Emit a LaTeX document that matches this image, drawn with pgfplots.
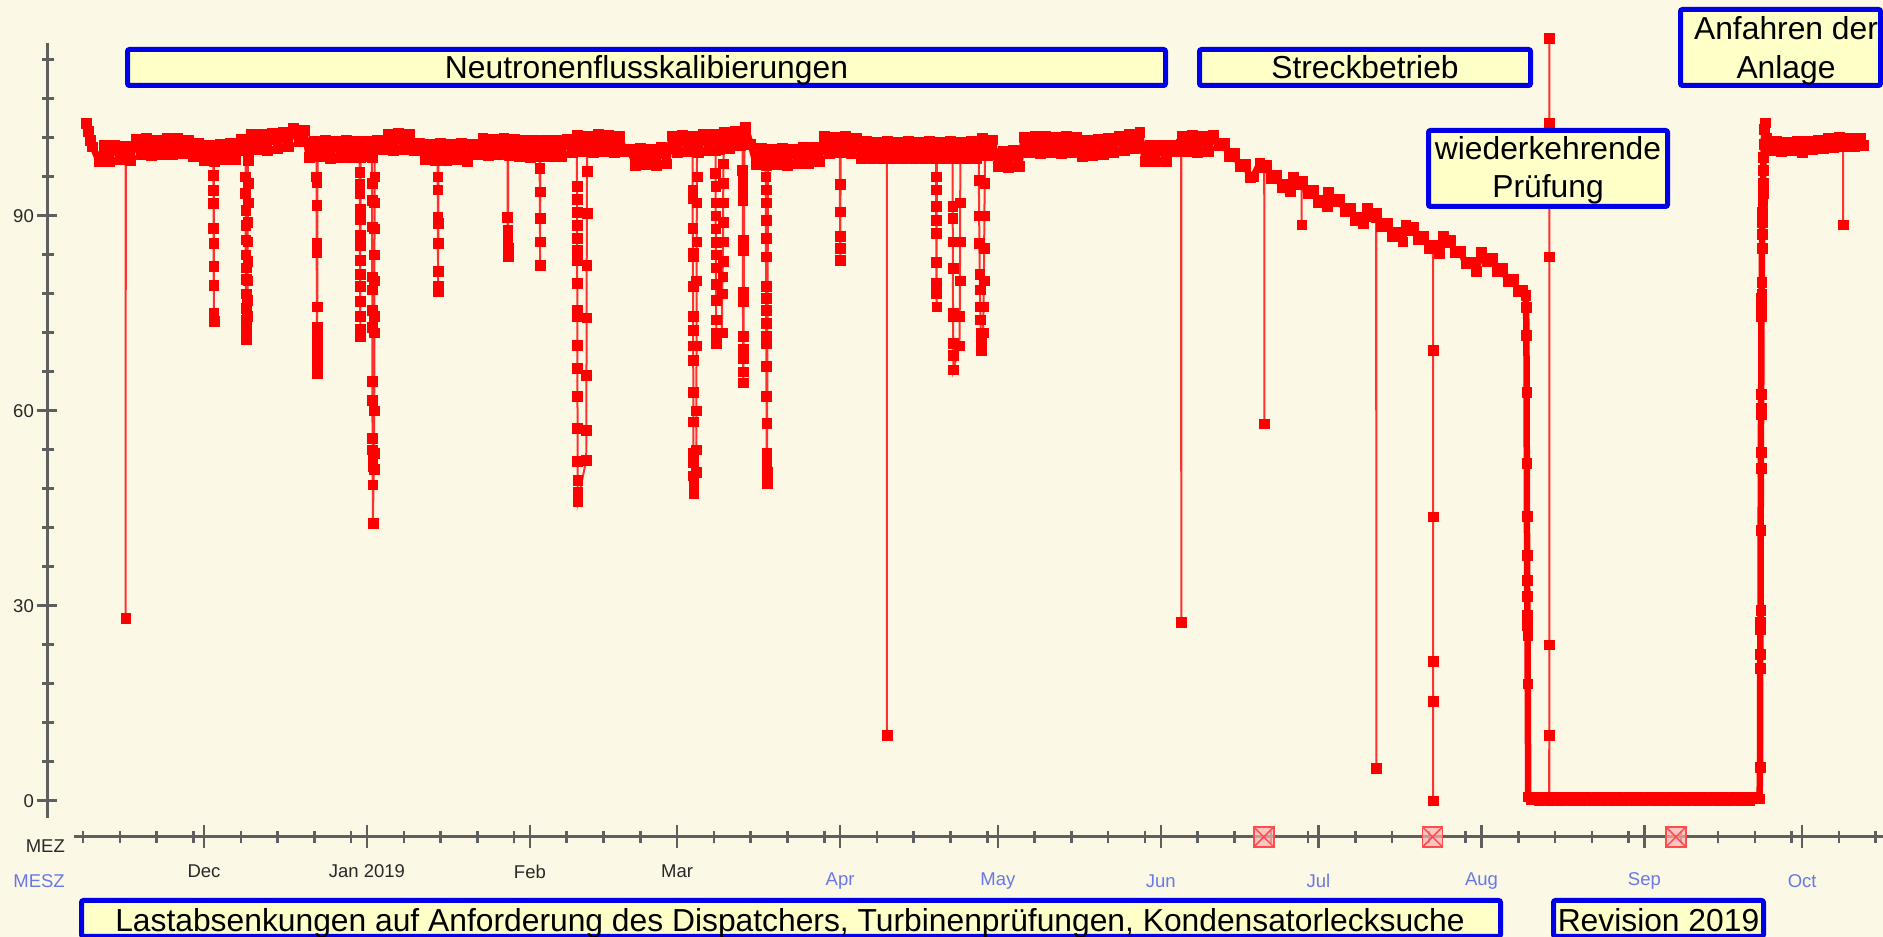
\documentclass[border=0pt]{standalone}
\usepackage{pgfplots}
\pgfplotsset{compat=1.18}
\usepackage{fontspec}
\setmainfont{Liberation Sans}
\definecolor{bg}{RGB}{252,248,230}
\definecolor{boxfill}{RGB}{255,255,200}
\definecolor{boxblue}{RGB}{0,0,230}
\definecolor{axgray}{RGB}{95,95,95}
\definecolor{mesz}{RGB}{105,120,230}
\definecolor{mez}{RGB}{40,40,40}
\newcommand\tickfont{\fontsize{18.5}{22}\selectfont}
\newcommand\boxfont{\fontsize{31.8}{38.2}\selectfont}
\pgfdeclareplotmark{xbox}{%
  \pgfpathrectangle{\pgfpoint{-\pgfplotmarksize}{-\pgfplotmarksize}}{\pgfpoint{2\pgfplotmarksize}{2\pgfplotmarksize}}%
  \pgfusepathqfillstroke
  \pgfpathmoveto{\pgfpoint{-\pgfplotmarksize}{-\pgfplotmarksize}}%
  \pgfpathlineto{\pgfpoint{\pgfplotmarksize}{\pgfplotmarksize}}%
  \pgfpathmoveto{\pgfpoint{-\pgfplotmarksize}{\pgfplotmarksize}}%
  \pgfpathlineto{\pgfpoint{\pgfplotmarksize}{-\pgfplotmarksize}}%
  \pgfusepathqstroke}
\begin{document}
\begin{tikzpicture}[x=1pt,y=1pt]
\useasboundingbox (0,0) rectangle (1883,937);
\clip (0,0) rectangle (1883,937);
\fill[bg] (0,0) rectangle (1883,937);
% y axis
\draw[axgray,line width=3pt] (47,119) -- (47,894);
\foreach \v in {0,6,...,114} \draw[axgray,line width=3pt] (42,{136.3+6.5*\v}) -- (54,{136.3+6.5*\v});
\foreach \v in {0,30,60,90} {
  \draw[axgray,line width=3pt] (37,{136.3+6.5*\v}) -- (57,{136.3+6.5*\v});
  \node[anchor=east,inner sep=0pt,font=\tickfont,text=mez] at (34,{136.3+6.5*\v}) {\v};
}
% time axis
\draw[axgray,line width=3pt] (74,100) -- (1883,100);
\foreach \d in {0,31,62,90,121,151,182,212,243,274,304}
  \draw[axgray,line width=2.5pt] ({204+5.257*\d},89) -- ({204+5.257*\d},112);
\foreach \d in {-23,-16,-9,-2,7,14,21,28,38,45,52,59,69,76,83,97,104,111,118,128,135,142,149,158,165,172,179,189,196,203,210,219,226,233,240,250,257,264,271,281,288,295,302,311,318}
  \draw[axgray,line width=2.5pt] ({204+5.257*\d},94) -- ({204+5.257*\d},106);
\foreach \d/\l in {0/Dec,31/Jan 2019,62/Feb,90/Mar}
  \node[font=\tickfont,text=mez,inner sep=0pt] at ({204+5.257*\d},65.5) {\l};
\foreach \d/\l in {121/Apr,151/May,182/Jun,212/Jul,243/Aug,274/Sep,304/Oct}
  \node[font=\tickfont,text=mesz,inner sep=0pt] at ({204+5.257*\d},56) {\l};
\node[anchor=east,font=\tickfont,text=mez,inner sep=0pt] at (65,90.5) {MEZ};
\node[anchor=east,font=\tickfont,text=mesz,inner sep=0pt] at (65,56) {MESZ};
\begin{axis}[at={(0,0)},anchor=south west,scale only axis,width=1883pt,height=937pt,
  xmin=-38.806,xmax=319.384,ymin=-20.969,ymax=123.185,hide axis,clip=false,
  dat/.style={red,line width=2pt,draw opacity=0.8,mark=square*,mark size=4.9pt,
    mark options={fill=red,draw=red,draw opacity=1,line width=0.4pt,solid}}]
\addplot[dat,line width=6.5pt,draw opacity=1,line join=round] coordinates {
(-22.4,104.2) (-22.0,103.0) (-21.6,101.6) (-21.2,100.6)
(-20,98.4) (-19,100.8) (-18,98.3) (-17,100.9) (-16,98.6) (-15,100.7) (-14,98.5)
(-13,101.8) (-12,99.4) (-11,101.9) (-10,99.3) (-9,101.7) (-8,99.5) (-7,102.0) (-6,99.4) (-5,101.9) (-4,99.6) (-3,101.6) (-2,99.2) (-1,101.2)
(0,98.5) (1,100.9) (2,98.4) (3,101.0) (4,98.6) (5,101.2) (6,98.7) (7,101.8)
(8,100.1) (9,102.6) (10,100.2) (11,102.5) (12,100.0) (13,102.7) (14,100.3) (15,102.8) (16,100.6) (17,103.5) (18,101.4) (19,103.2)
(20,99.0) (21,101.5) (22,99.1) (23,101.6) (24,98.9) (25,101.4) (26,99.0) (27,101.7) (28,99.0) (29,101.5)
(30,99.1) (31,101.5) (32,99.0) (33,101.6) (34,100.2) (35,102.6) (36,100.1) (37,102.7) (38,100.2) (39,102.5) (40,100.0) (41,101.2) (42,98.6) (43,101.0) (44,98.5) (45,101.1) (46,98.5) (47,101.0) (48,98.6) (49,101.1) (50,98.4) (51,101.0) (52,99.4) (53,101.9) (54,99.3) (55,101.8) (56,99.4) (57,101.9) (58,99.3) (59,101.8)
(60,99.1) (61,101.7) (62,99.0) (63,101.6) (64,99.2) (65,101.7) (66,99.1) (67,101.6) (68,99.2) (69,101.8)
(70,99.8) (71,102.4) (72,99.9) (73,102.3) (74,99.8) (75,102.5) (76,99.9) (77,102.4) (78,99.7) (79,102.3) (80,99.9)
(81,100.3) (82,97.8) (83,100.4) (84,97.9) (85,100.3) (86,97.8) (87,100.5) (88,98.0)
(89,102.3) (90,99.8) (91,102.4) (92,99.9) (93,102.3) (94,99.8) (95,102.5) (96,100.0) (97,102.6) (98,100.2) (99,102.8) (100,100.4) (101,103.0) (102,100.8) (103,103.6) (104,101.0)
(105,97.9) (106,100.4) (107,97.8) (108,100.3) (109,97.9) (110,100.4) (111,97.8) (112,100.3) (113,98.0) (114,100.5) (115,98.1) (116,100.6) (117,98.4)
(118,102.2) (119,99.6) (120,102.1) (121,99.7) (122,102.2) (123,99.6) (124,102.0)
(125,98.8) (126,101.4) (127,98.9) (128,101.3) (129,98.8) (130,101.4) (131,98.9) (132,101.3) (133,98.8) (134,101.4) (135,98.9) (136,101.3) (137,98.8) (138,101.4) (139,98.9) (140,101.3) (141,98.8) (142,101.4) (143,98.9) (144,101.3) (145,98.8) (146,101.4) (147,98.9)
(148,101.9) (149,99.3) (150,101.7)
(151,97.6) (152,100.0) (153,97.5) (154,100.1) (155,97.6)
(156,102.1) (157,99.7) (158,102.2) (159,99.6) (160,102.2) (161,99.7) (162,102.1) (163,99.6) (164,102.2) (165,99.7) (166,102.1)
(167,99.2) (168,101.6) (169,99.3) (170,101.8) (171,99.5) (172,102.0) (173,99.8) (174,102.3) (175,100.1) (176,102.6) (177,100.4) (178,102.8)
(179,98.4) (180,100.8) (181,98.3) (182,100.9) (183,98.4) (184,100.8)
(185,99.9) (186,102.3) (187,99.9) (188,102.4) (189,99.8) (190,102.3) (191,99.9) (192,102.4) (193,100.8)
(194,101.2) (195,99.2) (196,99.6) (197,97.6) (198,97.9) (199,95.9) (199.6,96.0)
(200.8,98.1) (201,97.4) (202,97.8) (203,95.8) (204,96.3) (205,94.3) (206,94.8) (206.6,93.7)
(207.2,96.0) (208,94.8) (209,95.3) (210,93.4) (211,93.9) (212,92.0) (213,92.4) (213.6,91.4)
(213.9,93.6) (215,92.2) (216,92.6) (217,90.7) (218,91.2) (219,89.3) (220,89.8) (220.5,88.8)
(221.2,91.1) (222,89.9) (223,90.4) (224,88.4) (225,88.9) (226,86.9) (227,87.4) (228,86.0)
(228.6,88.6) (229,87.7) (230,88.2) (231,86.3) (232,86.9) (233,85.0) (234,85.5) (235,84.2)
(235.7,86.8) (236,85.9) (237,86.3) (238,84.3) (239,84.6) (240,82.6) (241,82.9) (242,81.5)
(243,84.4) (244,83.0) (245,83.4) (246,81.4) (247,81.9) (248,79.9) (249,80.3) (250,78.3) (250.8,78.6) (251.4,77.8)
(251.5,75.9) (251.55,71.6) (251.6,62.8) (251.62,51.9) (251.65,43.8) (251.68,37.8) (251.7,33.9) (251.72,31.4) (251.74,28.5) (251.76,27.0) (251.78,25.5) (251.8,18.0) (251.9,0.6)
(252.5,0.2) (253,0.6) (254,0.1) (255,0.6) (256,0.1) (257,0.6) (258,0.1) (259,0.6) (260,0.1) (261,0.6) (262,0.1) (263,0.6) (264,0.1) (265,0.6) (266,0.1) (267,0.6) (268,0.1) (269,0.6) (270,0.1) (271,0.6) (272,0.1) (273,0.6) (274,0.1) (275,0.6) (276,0.1) (277,0.6) (278,0.1) (279,0.6) (280,0.1) (281,0.6) (282,0.1) (283,0.6) (284,0.1) (285,0.6) (286,0.1) (287,0.6) (288,0.1) (289,0.6) (290,0.1) (291,0.6) (292,0.1) (293,0.6) (294,0.1) (295,0.6) (295.9,0.3)
(296.0,5.2) (296.02,20.4) (296.04,22.5) (296.06,26.4) (296.08,27.5) (296.1,29.3) (296.12,41.6) (296.14,51.2) (296.16,53.6) (296.18,59.5) (296.2,60.4) (296.22,62.5) (296.24,74.5) (296.26,76.0) (296.28,77.3) (296.3,78.0) (296.32,79.8) (296.36,85.0) (296.38,87.2) (296.4,89.0) (296.44,90.5) (296.48,92.2) (296.52,93.5) (296.56,95.0) (296.6,97.0) (296.65,99.0) (296.7,101.0) (296.8,103.3) (296.9,104.3) (297.2,102.0)
(298,100.0) (299,101.4) (300,99.9) (301,101.3) (302,100.0) (303,101.5) (304,99.8) (305,101.4) (306,100.2) (307,101.7) (308,100.4) (309,101.9) (310,100.5) (311,102.1) (312,100.6) (313,102.0) (314,100.6) (315,101.9) (315.7,100.8)
};
% single spikes
\addplot[dat] coordinates {(-14.92,99) (-14.9,28.1) (-14.88,99)};
\addplot[dat] coordinates {(129.88,100.5) (129.9,10.1) (129.92,100.5)};
\addplot[dat] coordinates {(185.88,101) (185.9,27.5) (185.92,101)};
\addplot[dat] coordinates {(201.68,97.5) (201.7,58.0) (201.72,97.5)};
\addplot[dat] coordinates {(208.78,95) (208.8,88.6) (208.82,95)};
\addplot[dat] coordinates {(222.98,89.8) (223.0,5.0) (223.02,89.8)};
\addplot[dat] coordinates {(233.78,85) (233.8,69.3) (233.8,43.7) (233.8,21.5) (233.8,15.3) (233.8,0.0) (233.82,85)};
\addplot[dat] coordinates {(255.88,0.3) (255.9,10.1) (255.9,24.0) (255.9,83.7) (255.9,104.2) (255.9,117.3) (255.92,0.3)};
\addplot[dat] coordinates {(311.78,101) (311.8,88.6) (311.82,101)};
% dips
\addplot[dat] coordinates {(1.8,99.5) (1.8,96.2) (1.8,93.9) (1.82,91.9) (1.82,88.1) (1.84,85.8) (1.84,82.2) (1.86,79.3) (1.86,75.0) (1.88,73.8) (1.9,99.5)};
\addplot[dat] coordinates {(7.9,100) (7.9,96) (7.9,93.5) (7.92,90.8) (7.92,88.5) (7.94,86.3) (7.94,84) (7.96,82) (7.96,80.2) (7.98,78) (7.98,75.8) (8.0,74) (8.0,72.5) (8.02,71.0) (8.1,72) (8.2,74.5) (8.25,77) (8.3,80) (8.3,83) (8.32,86) (8.32,89) (8.34,92) (8.34,95) (8.36,98.5) (8.4,100.5)};
\addplot[dat] coordinates {(21.4,100) (21.4,96) (21.42,95.2) (21.42,91.6) (21.44,85.8) (21.44,84.3) (21.46,76) (21.48,72.9) (21.48,71.2) (21.5,69.8) (21.5,68.4) (21.52,67) (21.52,65.8) (21.6,99.5)};
\addplot[dat] coordinates {(29.6,100) (29.6,96.7) (29.62,94.8) (29.62,93.4) (29.64,91) (29.64,89.5) (29.66,87) (29.66,85.5) (29.68,83.2) (29.68,81) (29.7,79.2) (29.7,76.8) (29.72,74.5) (29.74,72.6) (29.74,71.4) (29.8,99)};
\addplot[dat] coordinates {(31.95,100) (31.95,95) (31.97,92.4) (31.97,88.3) (32.0,80.6) (32.0,78.6) (32.02,75.5) (32.02,72.9) (32.04,64.5) (32.04,61.6) (32.06,55.8) (32.06,54) (32.08,52.4) (32.08,51.4) (32.1,48.6) (32.12,42.7) (32.3,51) (32.35,53.5) (32.38,60) (32.4,72) (32.4,74.5) (32.42,80) (32.42,84) (32.44,88) (32.44,92) (32.46,96) (32.5,100.5)};
\addplot[dat] coordinates {(44.45,100) (44.45,96) (44.47,94) (44.47,89.8) (44.5,88.9) (44.5,85.8) (44.52,81.4) (44.54,79.2) (44.54,78.3) (44.6,99.5)};
\addplot[dat] coordinates {(57.75,100) (57.75,89.8) (57.78,87.8) (57.78,86.5) (57.8,85) (57.82,83.7) (57.85,100)};
\addplot[dat] coordinates {(63.85,100) (63.85,97.3) (63.88,93.7) (63.9,89.6) (63.92,86) (63.94,82.4) (63.98,100.5)};
\addplot[dat] coordinates {(70.95,101) (70.95,94.5) (70.96,92.5) (70.96,90.5) (70.97,88.5) (70.97,86.5) (70.98,84.7) (70.98,83.2) (71.0,79.6) (71.0,75.5) (71.02,74.5) (71.02,70.1) (71.04,66.5) (71.04,62.2) (71.06,57.3) (71.06,52.2) (71.08,49.3) (71.08,47.5) (71.1,46.0) (72.7,52.4) (72.75,57) (72.75,65.5) (72.8,74.3) (72.8,82.4) (72.85,90.4) (72.85,96.8) (72.9,101)};
\addplot[dat] coordinates {(92.95,101) (92.95,94) (92.97,92.7) (92.97,88.1) (93.0,84.3) (93.0,83.7) (93.02,79.1) (93.02,74.5) (93.04,72.4) (93.04,70) (93.06,67.8) (93.08,62.9) (93.08,58.3) (93.1,53.4) (93.1,52) (93.12,50) (93.14,48.5) (93.16,47.3) (93.6,50.5) (93.65,54) (93.65,60) (93.7,70) (93.7,80) (93.72,86) (93.74,92) (93.76,96) (93.8,101)};
\addplot[dat] coordinates {(97.3,100) (97.3,96.5) (97.32,94.5) (97.32,92) (97.34,90) (97.34,88) (97.36,85.9) (97.36,84) (97.38,82) (97.4,79.5) (97.42,77) (97.44,74) (97.46,72) (97.48,70.4) (98.5,72) (98.6,78) (98.65,80.6) (98.7,83) (98.72,86) (98.74,89) (98.76,92) (98.78,95) (98.8,98) (98.9,100.5)};
\addplot[dat] coordinates {(102.45,101) (102.45,97) (102.47,95.5) (102.47,94) (102.49,92.4) (102.5,86.2) (102.5,84.7) (102.52,78.3) (102.52,76.8) (102.54,71.4) (102.56,69.5) (102.56,68) (102.58,66) (102.6,64.3) (102.8,101)};
\addplot[dat] coordinates {(106.85,99) (106.85,96) (106.87,94) (106.87,92) (106.89,89.3) (106.9,86.5) (106.9,83.7) (106.92,79.1) (106.92,77.3) (106.94,75.5) (106.94,73.5) (106.96,71.5) (106.96,70.4) (106.98,66.8) (107.0,62.2) (107.02,58.1) (107.04,53.5) (107.04,52) (107.06,50.5) (107.08,48.9) (107.3,99)};
\addplot[dat] coordinates {(120.95,101) (120.95,94.9) (120.98,90.6) (121.0,86.8) (121.02,85) (121.04,83.2) (121.1,100)};
\addplot[dat] coordinates {(139.25,100) (139.25,96) (139.27,94) (139.27,91.5) (139.29,89.3) (139.3,87.3) (139.32,82.9) (139.34,79.6) (139.34,78) (139.36,76) (139.4,100)};
\addplot[dat] coordinates {(142.4,100) (142.4,91.4) (142.42,89.6) (142.44,86) (142.46,81.9) (142.48,75) (142.5,74.5) (142.52,70.4) (142.54,68.5) (142.56,66.3) (143.7,70) (143.75,74.5) (143.8,80) (143.82,86) (143.84,92) (143.9,100)};
\addplot[dat] coordinates {(147.4,100) (147.4,95.5) (147.45,90) (147.5,85.8) (147.55,81) (147.6,78.6) (147.65,76) (147.7,74) (147.75,72) (147.8,70.5) (147.85,69.3) (148.2,72) (148.3,76) (148.35,80) (148.4,85) (148.45,90) (148.5,95) (148.6,100)};
% event markers on the time axis
\addplot[only marks,mark=xbox,mark size=10pt,mark options={fill=red!30,fill opacity=0.7,draw=red!70,line width=1.5pt}] coordinates {(201.6,-5.58) (233.7,-5.58) (280.0,-5.58)};
\end{axis}
% annotation boxes
\tikzset{abox/.style={draw=boxblue,line width=5pt,fill=boxfill,rounded corners=2pt}}
\draw[abox] (127.5,887.5) rectangle (1165.5,851.5);
\draw[abox] (1199.5,887.5) rectangle (1530.5,851.5);
\draw[abox] (1428.5,806.5) rectangle (1667.5,730.5);
\draw[abox] (1680.5,927.5) rectangle (1880.5,851.5);
\draw[abox] (81.5,36.5) rectangle (1500.5,0.5);
\draw[abox] (1553.5,36.5) rectangle (1763.5,0.5);
\node[anchor=base,inner sep=0pt,font=\boxfont] at (646.5,858.5) {Neutronenflusskalibierungen};
\node[anchor=base,inner sep=0pt,font=\boxfont] at (1365,858.5) {Streckbetrieb};
\node[anchor=base,inner sep=0pt,font=\boxfont] at (1548,777.7) {wiederkehrende};
\node[anchor=base,inner sep=0pt,font=\boxfont] at (1548,739.7) {Prüfung};
\node[anchor=base,inner sep=0pt,font=\boxfont] at (1786,897.7) {Anfahren der};
\node[anchor=base,inner sep=0pt,font=\boxfont] at (1786,858.7) {Anlage};
\node[anchor=base,inner sep=0pt,font=\boxfont] at (790,5.5) {Lastabsenkungen auf Anforderung des Dispatchers, Turbinenprüfungen, Kondensatorlecksuche};
\node[anchor=base,inner sep=0pt,font=\boxfont] at (1658.5,5.5) {Revision 2019};
\end{tikzpicture}
\end{document}
